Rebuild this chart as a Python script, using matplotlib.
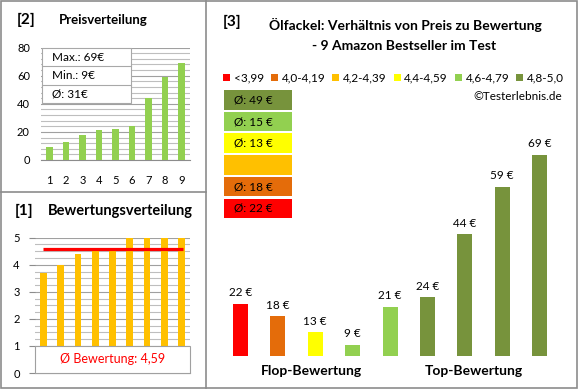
import matplotlib
matplotlib.use('Agg')
import matplotlib.pyplot as plt
from matplotlib.patches import Rectangle, Patch
from matplotlib.ticker import MultipleLocator

plt.rcParams['font.family'] = ['Lato', 'DejaVu Sans']

# data (panel 3 order: flop -> top)
prices = [22, 18, 13, 9, 21, 24, 44, 59, 69]
ratings = [3.7, 4.0, 4.4, 4.6, 4.6, 5.0, 5.0, 5.0, 5.0]
group_names = ['Flop-Bewertung', 'Top-Bewertung']
group_pos = [1.91, 6.24]

class_labels = ['<3,99', '4,0-4,19', '4,2-4,39', '4,4-4,59', '4,6-4,79', '4,8-5,0']
class_lower = [0.0, 4.0, 4.2, 4.4, 4.6, 4.8]
class_colors = ['#FF0000', '#E46C0A', '#FFC000', '#FFFF00', '#92D050', '#77933C']

price_sorted = sorted(prices)
rating_sorted = sorted(ratings)
avg_price = sum(prices) / len(prices)
avg_rating = sum(ratings) / len(ratings)

W, H = 580, 390
fig = plt.figure(figsize=(W / 100, H / 100), dpi=100)
GRAY = '#8C8C8C'


def px_axes(l, t, r, b, **kw):
    return fig.add_axes([l / W, 1 - b / H, (r - l) / W, (b - t) / H], **kw)


def rating_class(r):
    idx = 0
    for i, lo in enumerate(class_lower):
        if r >= lo:
            idx = i
    return idx


# ---- panel 2: Preisverteilung
ax2 = px_axes(41, 47.5, 190, 160)
ax2.bar(range(1, 10), price_sorted, width=0.4, color='#92D050', zorder=3)
ax2.set_xlim(0.5, 9.5)
ax2.set_ylim(0, 80)
ax2.set_xticks(range(1, 10))
ax2.set_yticks(range(0, 81, 20))
ax2.yaxis.set_minor_locator(MultipleLocator(4))
ax2.grid(axis='y', which='minor', color='#BEBEBE', lw=0.8)
ax2.grid(axis='y', which='major', color='#A0A0A0', lw=0.8)
for s in ['left', 'right', 'top']:
    ax2.spines[s].set_visible(False)
ax2.spines['bottom'].set_color(GRAY)
ax2.tick_params(axis='y', which='both', length=0, pad=8, labelsize=8)
ax2.tick_params(axis='x', length=0, pad=11, labelsize=8)

# ---- panel 1: Bewertungsverteilung
ax1 = px_axes(35, 237.7, 190, 373)
ax1.bar(range(1, 10), rating_sorted, width=0.4, color='#FFC000', zorder=3)
ax1.hlines(avg_rating, 0.95, 9.1, color='#FF0000', lw=2.3, zorder=4)
ax1.set_xlim(0.5, 9.5)
ax1.set_ylim(0, 5)
ax1.set_xticks([])
ax1.set_yticks(range(0, 6))
ax1.yaxis.set_minor_locator(MultipleLocator(0.25))
ax1.grid(axis='y', which='minor', color='#BEBEBE', lw=0.8)
ax1.grid(axis='y', which='major', color='#A0A0A0', lw=0.8)
for s in ['left', 'right', 'top']:
    ax1.spines[s].set_visible(False)
ax1.spines['bottom'].set_color(GRAY)
ax1.tick_params(axis='y', which='major', length=4, color=GRAY, pad=7, labelsize=8)
ax1.tick_params(axis='y', which='minor', length=0)
ax1.add_patch(Rectangle((0.5, 0), 9, 1, facecolor='white', edgecolor='#A0A0A0',
                        lw=0.8, zorder=5, clip_on=False))
ax1.text(5, 0.5, 'Ø Bewertung: ' + f'{avg_rating:.2f}'.replace('.', ','),
         color='#FF0000', fontsize=9, ha='center', va='center', zorder=6)

# ---- panel 3: Preis zu Bewertung
ax3 = px_axes(221.8, 130, 558.4, 355.7)
cols = [class_colors[rating_class(r)] for r in ratings]
ax3.bar(range(len(prices)), prices, width=0.4, color=cols, bottom=0)
ax3.set_xlim(-0.5, 8.5)
ax3.set_ylim(5.6, 76.9)
ax3.axis('off')
for i, p in enumerate(prices):
    ax3.annotate(f'{p} €', (i, p), xytext=(0, 4), textcoords='offset points',
                 ha='center', va='bottom', fontsize=8.5)
for name, gx in zip(group_names, group_pos):
    ax3.text(gx, -0.07, name, transform=ax3.get_xaxis_transform(), ha='center',
             va='center', fontsize=10, fontweight='bold')

# ---- overlay: frames, titles, boxes
ov = fig.add_axes([0, 0, 1, 1], zorder=10)
ov.set_xlim(0, W)
ov.set_ylim(H, 0)
ov.axis('off')
ov.patch.set_alpha(0)
ov.add_patch(Rectangle((1, 1), 576, 386.5, fill=False, edgecolor=GRAY, lw=1.2))
ov.plot([205.5, 205.5], [1, 387.5], color=GRAY, lw=1.2)
ov.plot([1, 205.5], [191.5, 191.5], color=GRAY, lw=1.2)

ov.text(17, 20, '[2]', fontsize=11, fontweight='bold', va='center')
ov.text(59, 20, 'Preisverteilung', fontsize=9.5, fontweight='bold', va='center')
ov.text(15, 211, '[1]', fontsize=11, fontweight='bold', va='center')
ov.text(48, 211, 'Bewertungsverteilung', fontsize=10.5, fontweight='bold', va='center')
ov.text(223, 22, '[3]', fontsize=11, fontweight='bold', va='center')
ov.text(405, 25, 'Ölfackel: Verhältnis von Preis zu Bewertung', fontsize=10,
        fontweight='bold', ha='center', va='center')
ov.text(404, 46, '- 9 Amazon Bestseller im Test', fontsize=10,
        fontweight='bold', ha='center', va='center')

# info box in panel 2
info = [f'Max.: {max(prices)}€', f'Min.: {min(prices)}€', f'Ø: {avg_price:.0f}€']
ov.add_patch(Rectangle((41.5, 48), 89.5, 55, facecolor='white', edgecolor='#A8A8A8', lw=0.8))
for k, t in enumerate(info):
    y0 = 48 + k * 18.4
    if k > 0:
        ov.plot([41.5, 131], [y0, y0], color='#A8A8A8', lw=0.8)
    ov.text(52.5, y0 + 9.2, t, fontsize=8.5, va='center')

# legend
handles = [Patch(facecolor=c, edgecolor='none') for c in class_colors]
fig.legend(handles, class_labels, loc='center', bbox_to_anchor=(393.5 / W, 1 - 78 / H),
           ncol=6, frameon=False, fontsize=8.5, handlelength=0.6, handleheight=0.6,
           handletextpad=0.3, columnspacing=0.6, borderaxespad=0, borderpad=0)
ov.text(562, 97, '©Testerlebnis.de', fontsize=8.5, ha='right', va='center')

# average boxes per rating class, best on top
for k, ci in enumerate(reversed(range(len(class_colors)))):
    top = 90 + k * 21.7
    ov.add_patch(Rectangle((224, top), 68, 19.5, facecolor=class_colors[ci], edgecolor='none'))
    sel = [p for p, r in zip(prices, ratings) if rating_class(r) == ci]
    if sel:
        ov.text(234, top + 10, f'Ø: {sum(sel) / len(sel):.0f} €', fontsize=8.5, va='center')

fig.savefig('out.png', dpi=100)
